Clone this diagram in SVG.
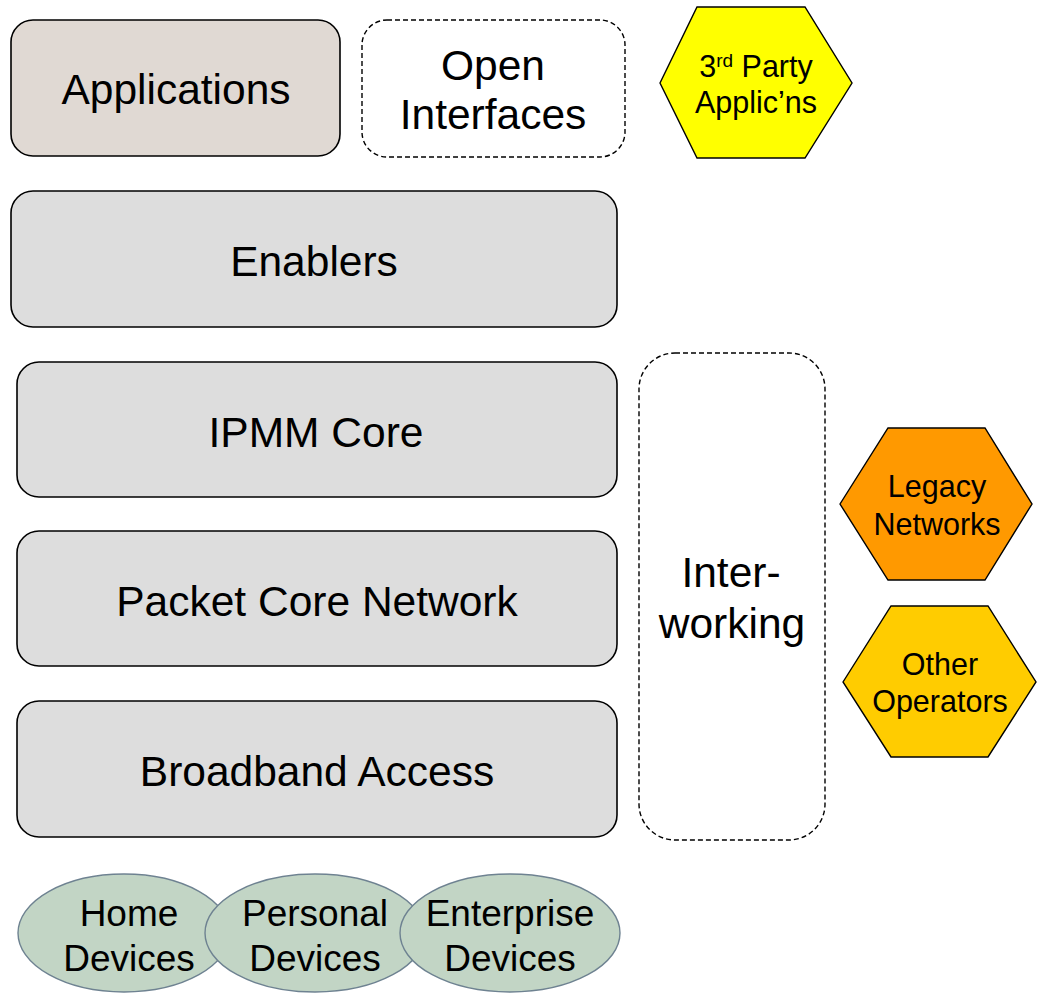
<svg xmlns="http://www.w3.org/2000/svg" width="1042" height="993" viewBox="0 0 1042 993">
<style>
text{font-family:"Liberation Sans",Arial,sans-serif;fill:#000;text-anchor:middle}
.box{stroke:#000;stroke-width:1.6}
.gray{fill:#dddddd}
.dash{fill:#fff;stroke:#000;stroke-width:1.4;stroke-dasharray:5,3}
.big{font-size:42.5px}
.hex{stroke:#000;stroke-width:1.4}
.hx{font-size:30.5px}
.dev{fill:#c2d5c5;stroke:#6e8291;stroke-width:1.4}
.dv{font-size:37px}
</style>
<rect width="1042" height="993" fill="#fff"/>
<g id="applications">
<rect class="box" x="11" y="20" width="329" height="136" rx="22" fill="#e0d9d3"/>
<text class="big" x="176" y="104">Applications</text>
</g>
<g id="open-interfaces">
<rect class="dash" x="362" y="20" width="263" height="137" rx="25"/>
<text class="big" x="493" y="80">Open</text>
<text class="big" x="493" y="129">Interfaces</text>
</g>
<g id="third-party">
<polygon class="hex" points="660,83 697,7 805,7 852,83 805,158 697,158" fill="#ffff00"/>
<text class="hx" x="756" y="77">3<tspan font-size="19" dy="-10">rd</tspan><tspan dy="10"> Party</tspan></text>
<text class="hx" x="756" y="113">Applic’ns</text>
</g>
<g id="enablers">
<rect class="box gray" x="11" y="191" width="606" height="136" rx="22"/>
<text class="big" x="314" y="276">Enablers</text>
</g>
<g id="ipmm-core">
<rect class="box gray" x="17" y="362" width="600" height="135" rx="22"/>
<text class="big" x="316" y="447">IPMM Core</text>
</g>
<g id="packet-core">
<rect class="box gray" x="17" y="531" width="600" height="135" rx="22"/>
<text class="big" x="317" y="616">Packet Core Network</text>
</g>
<g id="broadband">
<rect class="box gray" x="17" y="701" width="600" height="136" rx="22"/>
<text class="big" x="317" y="786">Broadband Access</text>
</g>
<g id="interworking">
<rect class="dash" x="639" y="353" width="186" height="487" rx="36"/>
<text class="big" x="731" y="587">Inter-</text>
<text class="big" x="732" y="638">working</text>
</g>
<g id="legacy">
<polygon class="hex" points="840,504 888,428 985,428 1032,504 985,580 888,580" fill="#ff9900"/>
<text class="hx" x="937" y="497">Legacy</text>
<text class="hx" x="937" y="535">Networks</text>
</g>
<g id="other-operators">
<polygon class="hex" points="843,682 891,606 988,606 1036,682 988,757 891,757" fill="#ffcc00"/>
<text class="hx" x="940" y="675">Other</text>
<text class="hx" x="940" y="712">Operators</text>
</g>
<g id="home-devices">
<ellipse class="dev" cx="124" cy="933" rx="106" ry="59"/>
<text class="dv" x="129" y="926">Home</text>
<text class="dv" x="129" y="971">Devices</text>
</g>
<g id="personal-devices">
<ellipse class="dev" cx="315" cy="933" rx="110" ry="59"/>
<text class="dv" x="315" y="926">Personal</text>
<text class="dv" x="315" y="971">Devices</text>
</g>
<g id="enterprise-devices">
<ellipse class="dev" cx="510" cy="933" rx="110" ry="59"/>
<text class="dv" x="510" y="926">Enterprise</text>
<text class="dv" x="510" y="971">Devices</text>
</g>
<g id="connectors"></g>
</svg>
